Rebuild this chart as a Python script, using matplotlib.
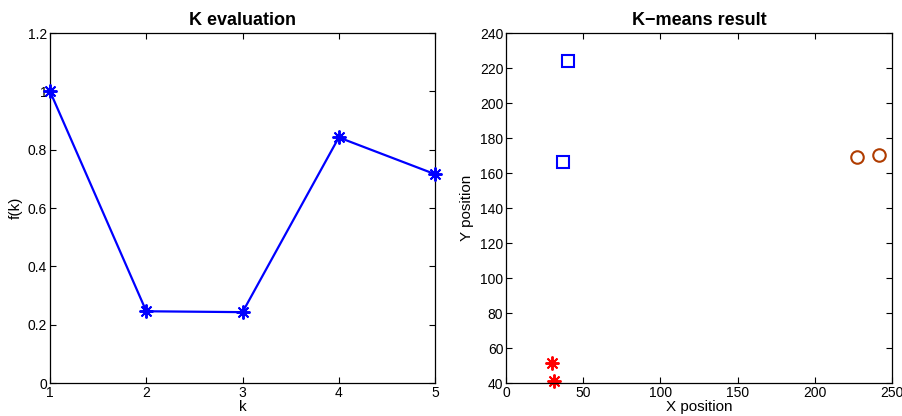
import numpy as np
import matplotlib
matplotlib.use("Agg")
import matplotlib.pyplot as plt

plt.rcParams['font.family'] = ['Liberation Sans', 'DejaVu Sans']

# K evaluation
k_vals = [1, 2, 3, 4, 5]
f_vals = [1.0, 0.246, 0.243, 0.842, 0.716]

# K-means clusters
c1_x = [40.2, 36.9]
c1_y = [224.0, 166.3]
c2_x = [29.8, 31.1]
c2_y = [51.4, 41.1]
c3_x = [227.3, 241.6]
c3_y = [169.1, 170.3]

asterisk = (8, 2, 0)

fig = plt.figure(figsize=(9.03, 4.16), dpi=100)
ax1 = fig.add_axes([0.0554, 0.0793, 0.4264, 0.8413])
ax2 = fig.add_axes([0.5604, 0.0793, 0.4275, 0.8413])

for ax in (ax1, ax2):
    ax.tick_params(direction='in', top=True, right=True, labelsize=10,
                   length=4, width=0.8, pad=2)
    for s in ax.spines.values():
        s.set_linewidth(0.9)

ax1.plot(k_vals, f_vals, '-', color='#0000ff', lw=1.6, marker=asterisk,
         markersize=10, markeredgewidth=1.4, clip_on=False, zorder=3)
ax1.set_xlim(1, 5)
ax1.set_ylim(0, 1.2)
ax1.set_xticks([1, 2, 3, 4, 5])
ax1.set_yticks([0, 0.2, 0.4, 0.6, 0.8, 1.0, 1.2])
ax1.set_yticklabels(['0', '0.2', '0.4', '0.6', '0.8', '1', '1.2'])
ax1.set_xlabel('k', fontsize=11, labelpad=0)
ax1.set_ylabel('f(k)', fontsize=11, labelpad=4)
ax1.set_title('K evaluation', fontsize=13, fontweight='bold', pad=6)

ax2.plot(c1_x, c1_y, 's', color='#0000ff', mfc='none', markersize=8,
         markeredgewidth=1.5, linestyle='none')
ax2.plot(c2_x, c2_y, marker=asterisk, color='#ff0000', markersize=10,
         markeredgewidth=1.4, linestyle='none', clip_on=False)
ax2.plot(c3_x, c3_y, 'o', color='#b03c00', mfc='none', markersize=9,
         markeredgewidth=1.5, linestyle='none')
ax2.set_xlim(0, 250)
ax2.set_ylim(40, 240)
ax2.set_xticks(np.arange(0, 251, 50))
ax2.set_yticks(np.arange(40, 241, 20))
ax2.set_xlabel('X position', fontsize=11, labelpad=0)
ax2.set_ylabel('Y position', fontsize=11, labelpad=4)
ax2.set_title('K\u2212means result', fontsize=13, fontweight='bold', pad=6)

fig.savefig('out.png', dpi=100)
